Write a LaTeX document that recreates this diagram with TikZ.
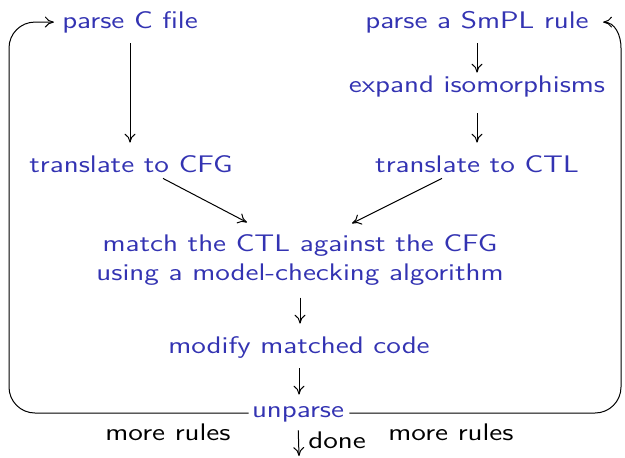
\documentclass[tikz,border=0pt]{standalone}
\usepackage{graphicx}
\usetikzlibrary{arrows.meta}
\definecolor{struct}{rgb}{0.2,0.2,0.7}
\newcommand{\hs}[1]{\scalebox{1.24}[1]{#1}}
\tikzset{
  txt/.style={inner sep=0pt, font=\sffamily\fontsize{12}{14.5}\selectfont, text=struct},
  lbl/.style={txt, text height=8.3pt, text depth=2.4pt},
  plain/.style={lbl, text=black},
  conn/.style={-{To[length=4.5pt,width=5.5pt]}, line width=0.5pt},
}
\begin{document}
\begin{tikzpicture}[x=0.5pt,y=-0.5pt]
\useasboundingbox (0,0) rectangle (625,457);
\node[lbl,anchor=base] (pc) at (130,28) {\hs{parse C file}};
\node[lbl,anchor=base] (ps) at (477,28) {\hs{parse a SmPL rule}};
\node[lbl,anchor=base] (ei) at (477,92) {\hs{expand isomorphisms}};
\node[lbl,anchor=base] (tcfg) at (131,172) {\hs{translate to CFG}};
\node[lbl,anchor=base] (tctl) at (477,172) {\hs{translate to CTL}};
\node[txt,align=center] (match) at (300,260) {\hs{match the CTL against the CFG}\\\hs{using a model-checking algorithm}};
\node[lbl,anchor=base] (mod) at (299,353) {\hs{modify matched code}};
\node[lbl,anchor=base] (unp) at (298,417) {\hs{unparse}};
\node[plain,anchor=base] (mrl) at (168,440) {\hs{more rules}};
\node[plain,anchor=base] (mrr) at (451,440) {\hs{more rules}};
\node[plain,anchor=base west] (done) at (308,448) {\hs{done}};
\coordinate (exit) at (299,456);
\coordinate (bl) at (9,413);
\coordinate (tl) at (9,22);

\draw[conn, shorten <=5.1pt, shorten >=6.2pt] (pc.south) -- (pc.south |- tcfg.north);
\draw[conn, shorten <=5.1pt, shorten >=1.2pt] (ps.south) -- (ei.north);
\draw[conn, shorten <=8.1pt, shorten >=6.2pt] (ei.south) -- (tctl.north);
\draw[conn] ([shift={(32,1.2)}]tcfg.south) -- ([shift={(-53,-11.8)}]match.north);
\draw[conn] ([shift={(-35,1.2)}]tctl.south) -- ([shift={(52,-10.8)}]match.north);
\draw[conn, shorten <=5.9pt, shorten >=6.2pt] (match.south) -- (match.south |- mod.north);
\draw[conn, shorten <=5.1pt, shorten >=2.7pt] (mod.south) -- (mod.south |- unp.north);
\draw[conn, shorten <=4.1pt] (unp.south) -- (exit);

\draw[conn, rounded corners=13pt] ([shift={(-3,1.9)}]unp.west) -- (bl) -- (tl) -- ([xshift=-4pt]pc.west);
\draw[conn] ([shift={(5,1.9)}]unp.east) -- (595,413) to[out=0,in=-90] (621,387) -- (621,48) to[out=90,in=0] ([xshift=7pt]ps.east);
\end{tikzpicture}
\end{document}
